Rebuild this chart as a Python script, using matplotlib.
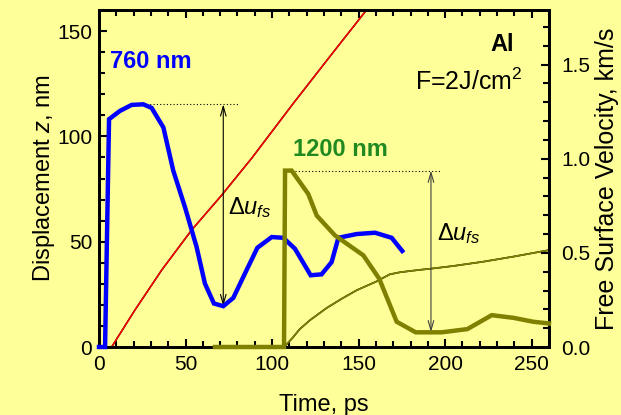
import numpy as np
import matplotlib
matplotlib.use("Agg")
import matplotlib.pyplot as plt
from matplotlib.ticker import MultipleLocator, FormatStrFormatter

plt.rcParams['font.family'] = ['Liberation Sans', 'DejaVu Sans']
plt.rcParams['mathtext.fontset'] = 'custom'
plt.rcParams['mathtext.rm'] = 'Liberation Sans'
plt.rcParams['mathtext.it'] = 'Liberation Sans:italic'
plt.rcParams['mathtext.bf'] = 'Liberation Sans:bold'

BG = '#ffff99'
OLIVE = '#808000'

# free surface velocity, 760 nm film (km/s)
t760 = [0, 3.5, 5.8, 12.1, 18.9, 25.6, 30.4, 37.2, 42.9, 49.7, 56.4, 61.2, 66.4,
        71.8, 77.6, 84.3, 91.5, 99.8, 106.5, 113.2, 122.3, 128.6, 134.4, 138.3,
        148.9, 159.5, 169.1, 175.2]
u760 = [0, 0, 1.21, 1.254, 1.286, 1.289, 1.27, 1.166, 0.937, 0.742, 0.531, 0.337,
        0.231, 0.217, 0.261, 0.39, 0.527, 0.584, 0.58, 0.522, 0.381, 0.386, 0.451,
        0.58, 0.60, 0.607, 0.58, 0.51]

# free surface velocity, 1200 nm film (km/s)
t1200 = [67, 106.9, 107.5, 111.3, 120.9, 125.8, 136.3, 152.7, 161.9, 172, 183,
         198, 212.8, 226.9, 239.4, 251, 260]
u1200 = [0, 0, 0.937, 0.937, 0.813, 0.698, 0.593, 0.487, 0.363, 0.134, 0.078,
         0.078, 0.095, 0.169, 0.155, 0.134, 0.125]

# surface displacement (nm)
tz760 = [7.3, 20.8, 36.2, 53.5, 70.9, 88.2, 112.3, 133, 156]
z760 = [0, 17.6, 36.5, 55.5, 72.1, 89.6, 115.7, 137.5, 161.5]

tz1200 = [107, 112, 116, 122, 131.5, 140, 149, 160, 168, 174, 185, 193, 205, 222, 240, 260]
z1200 = [0, 4.5, 8.5, 12.8, 18.5, 22.8, 27, 31, 34.5, 35.5, 36.6, 37.3, 38.5, 40.5, 43, 46]

fig = plt.figure(figsize=(6.21, 4.15), dpi=100, facecolor=BG)
ax = fig.add_axes([99 / 621, 68 / 415, 450 / 621, 337 / 415])
ax.set_facecolor(BG)
ax2 = ax.twinx()

# displacement curves (thin black data under the fitted colour line)
ax.plot(tz760, z760, color='black', lw=1.1, zorder=2)
ax.plot(tz760, z760, color='red', lw=1.1, zorder=2.1)
ax.plot(tz1200, z1200, color='black', lw=1.2, zorder=2)
ax.plot(tz1200, z1200, color=OLIVE, lw=1.2, zorder=2.1)

# velocity curves
ax2.plot(t760, u760, color='#0000ff', lw=3.2, clip_on=False, zorder=4,
         solid_joinstyle='miter')
ax2.plot(t1200, u1200, color=OLIVE, lw=3.2, clip_on=False, zorder=4,
         solid_joinstyle='miter')

# spall amplitude markers
i_pk = int(np.argmax(u760))
i_mn = int(np.argmin(u760[5:])) + 5
ax2.plot([t760[i_pk], 80.3], [u760[i_pk]] * 2, color='black', lw=0.8, ls=(0, (1, 2)))
ax2.annotate('', xy=(t760[i_mn], u760[i_mn]), xytext=(t760[i_mn], u760[i_pk]),
             arrowprops=dict(arrowstyle='<->,head_length=0.7,head_width=0.2',
                             color='black', lw=0.8, shrinkA=0, shrinkB=0))
ax2.text(74.5, 0.74, r'$\Delta u_{fs}$', fontsize=17, ha='left', va='center')

j_pk = int(np.argmax(u1200))
j_mn = int(np.argmin(u1200[4:])) + 4
ax2.plot([t1200[j_pk], 197], [u1200[j_pk]] * 2, color='black', lw=0.8, ls=(0, (1, 2)))
ax2.annotate('', xy=(191.8, u1200[j_mn]), xytext=(191.8, u1200[j_pk]),
             arrowprops=dict(arrowstyle='<->,head_length=0.7,head_width=0.2',
                             color='#404040', lw=0.8, shrinkA=0, shrinkB=0))
ax2.text(195.3, 0.60, r'$\Delta u_{fs}$', fontsize=17, ha='left', va='center')

ax2.text(6.4, 1.516, '760 nm', color='#0000ff', fontsize=17, fontweight='bold',
         ha='left', va='center')
ax2.text(112, 1.048, '1200 nm', color='#208a20', fontsize=17, fontweight='bold',
         ha='left', va='center')
ax.text(0.922, 0.878, 'Al', transform=ax.transAxes, fontsize=17, fontweight='bold',
        ha='right', va='baseline')
ax.text(0.942, 0.763, r'F=2J/cm$^2$', transform=ax.transAxes, fontsize=18,
        ha='right', va='baseline')

# axes
ax.set_xlim(0, 260)
ax.set_ylim(0, 160)
ax2.set_ylim(0, 1.79)

ax.xaxis.set_major_locator(MultipleLocator(50))
ax.xaxis.set_minor_locator(MultipleLocator(10))
ax.yaxis.set_major_locator(MultipleLocator(50))
ax.yaxis.set_minor_locator(MultipleLocator(10))
ax2.yaxis.set_major_locator(MultipleLocator(0.5))
ax2.yaxis.set_minor_locator(MultipleLocator(0.1))
ax2.yaxis.set_major_formatter(FormatStrFormatter('%.1f'))

ax.tick_params(axis='x', which='both', direction='in', top=True, labelsize=15, pad=6)
ax.tick_params(axis='y', which='both', direction='in', right=False, labelsize=15, pad=5)
ax2.tick_params(axis='y', which='both', direction='in', labelsize=15, pad=9)
for a in (ax, ax2):
    a.tick_params(which='major', length=6, width=1.5)
    a.tick_params(which='minor', length=4, width=1.5)
    for s in a.spines.values():
        s.set_linewidth(2)

ax.set_xlabel('Time, ps', fontsize=17, labelpad=14)
ax.set_ylabel(r'Displacement $z$, nm', fontsize=17, labelpad=0)
ax2.set_ylabel('Free Surface Velocity, km/s', fontsize=18, labelpad=3)

fig.savefig('out.png', dpi=100, facecolor=BG)
